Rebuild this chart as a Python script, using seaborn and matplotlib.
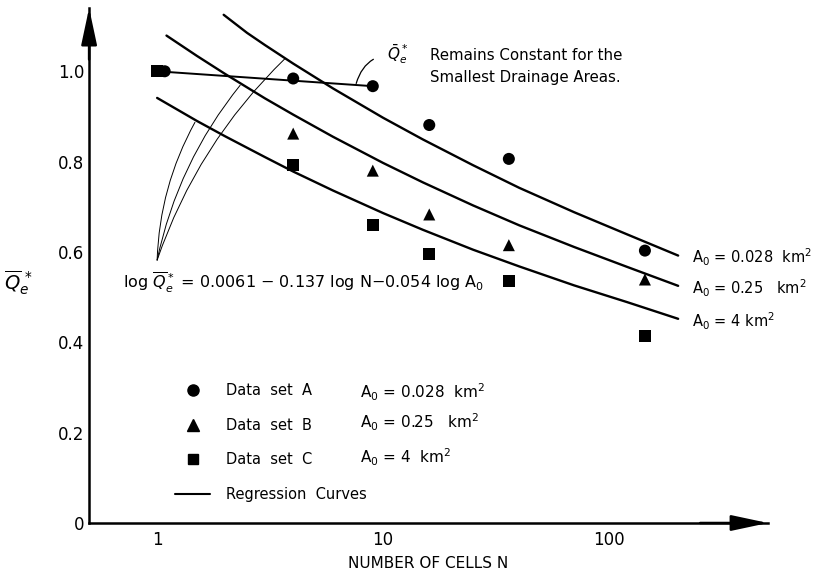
import numpy as np
import pandas as pd
import matplotlib
matplotlib.use("Agg")
import matplotlib.pyplot as plt
import seaborn as sns
from matplotlib.lines import Line2D
from matplotlib.ticker import NullLocator

n_a = [1.08, 4, 9, 16, 36, 144]
q_a = [1.0, 0.984, 0.967, 0.881, 0.806, 0.603]
n_b = [4, 9, 16, 36, 144]
q_b = [0.862, 0.780, 0.683, 0.615, 0.539]
n_c = [1, 4, 9, 16, 36, 144]
q_c = [1.0, 0.792, 0.660, 0.595, 0.535, 0.413]

# regression curves
curve_n_a = [1.97, 2.5, 3, 4, 6, 10, 15, 25, 40, 70, 120, 202]
curve_q_a = [1.125, 1.085, 1.058, 1.017, 0.962, 0.897, 0.849, 0.792, 0.742, 0.688, 0.639, 0.592]
curve_n_b = [1.1, 1.5, 2, 3, 4, 6, 10, 15, 25, 40, 70, 120, 202]
curve_q_b = [1.079, 1.034, 0.994, 0.940, 0.904, 0.855, 0.797, 0.754, 0.703, 0.659, 0.611, 0.567, 0.525]
curve_n_c = [1, 1.5, 2, 3, 4, 6, 10, 15, 25, 40, 70, 120, 202]
curve_q_c = [0.941, 0.890, 0.856, 0.810, 0.778, 0.736, 0.686, 0.649, 0.605, 0.568, 0.526, 0.489, 0.452]
curve_labels = ["A$_0$ = 0.028  km$^2$", "A$_0$ = 0.25   km$^2$", "A$_0$ = 4 km$^2$"]

# "remains constant" segment
const_n = [1, 9]
const_q = [1.0, 0.967]

set_names = ["Data  set  A", "Data  set  B", "Data  set  C"]
set_areas = ["A$_0$ = 0.028  km$^2$", "A$_0$ = 0.25   km$^2$", "A$_0$ = 4  km$^2$"]

x_ticks = [1, 10, 100]
x_tick_labels = ["1", "10", "100"]
y_ticks = [0, 0.2, 0.4, 0.6, 0.8, 1.0]
y_tick_labels = ["0", "0.2", "0.4", "0.6", "0.8", "1.0"]


def main():
    sns.set_theme(style="white")
    plt.rcParams["font.family"] = ["DejaVu Sans"]
    plt.rcParams["mathtext.fontset"] = "dejavusans"
    plt.rcParams["text.color"] = "black"
    plt.rcParams["axes.labelcolor"] = "black"

    fig = plt.figure(figsize=(8.25, 5.77), dpi=100)
    ax = fig.add_axes([0.108, 0.0936, 0.823, 0.8925])

    pts = pd.DataFrame({
        "N": n_a + n_b + n_c,
        "Q": q_a + q_b + q_c,
        "set": ["A"] * len(n_a) + ["B"] * len(n_b) + ["C"] * len(n_c),
    })
    curves = pd.DataFrame({
        "N": curve_n_a + curve_n_b + curve_n_c,
        "Q": curve_q_a + curve_q_b + curve_q_c,
        "A0": ["a"] * len(curve_n_a) + ["b"] * len(curve_n_b) + ["c"] * len(curve_n_c),
    })

    sns.lineplot(data=curves, x="N", y="Q", units="A0", estimator=None, sort=False,
                 color="black", lw=1.7, legend=False, ax=ax)
    sns.lineplot(x=const_n, y=const_q, color="black", lw=1.4, ax=ax)
    sns.scatterplot(data=pts, x="N", y="Q", style="set",
                    markers={"A": "o", "B": "^", "C": "s"},
                    color="black", s=75, linewidth=0, legend=False, ax=ax, zorder=5)

    ax.set_xscale("log")
    ax.set_xlim(0.5, 505)
    ax.set_ylim(0, 1.14)

    # axes styling
    for side in ["top", "right"]:
        ax.spines[side].set_visible(False)
    for side in ["left", "bottom"]:
        ax.spines[side].set_linewidth(1.8)
        ax.spines[side].set_color("black")
    ax.set_xticks(x_ticks)
    ax.set_xticklabels(x_tick_labels)
    ax.xaxis.set_minor_locator(NullLocator())
    ax.set_yticks(y_ticks)
    ax.set_yticklabels(y_tick_labels)
    ax.tick_params(axis="both", direction="in", length=7, width=1.2,
                   labelsize=12, colors="black")
    ax.tick_params(axis="x", pad=6)
    ax.set_xlabel("NUMBER OF CELLS N", fontsize=11, labelpad=5)
    ax.set_ylabel("")
    ax.grid(False)

    # arrow heads on the axes
    head = dict(arrowstyle="-|>,head_length=1.5,head_width=0.32", color="black",
                lw=1.8, mutation_scale=15, shrinkA=0, shrinkB=0)
    ax.annotate("", xy=(1, 0), xytext=(0.9, 0), xycoords="axes fraction",
                arrowprops=head, annotation_clip=False)
    ax.annotate("", xy=(0, 1), xytext=(0, 0.9), xycoords="axes fraction",
                arrowprops=head, annotation_clip=False)

    fig.text(0.022, 0.51, r"$\overline{Q}_{e}^{\,*}$", fontsize=14, ha="center", va="center")

    # curve labels
    for lab, yq in zip(curve_labels, [0.588, 0.519, 0.446]):
        ax.text(233, yq, lab, fontsize=10.5, va="center", ha="left")

    # annotation for constant segment
    ax.annotate(r"$\bar{Q}_e^*$", xy=(7.6, 0.973), xytext=(11.6, 1.037),
                fontsize=11, ha="center", va="center",
                arrowprops=dict(arrowstyle="-", connectionstyle="arc3,rad=0.4",
                                lw=0.9, color="black", shrinkA=8, shrinkB=0))
    ax.text(16.1, 1.035, "Remains Constant for the", fontsize=10.8, va="center")
    ax.text(16.1, 0.987, "Smallest Drainage Areas.", fontsize=10.8, va="center")

    # regression equation with pointer lines
    ax.text(0.707, 0.532,
            r"log $\overline{Q}_e^*$ = 0.0061 $-$ 0.137 log N$-$0.054 log A$_0$",
            fontsize=11.5, va="center", ha="left")
    for xe, ye in [(3.68, 1.028), (2.33, 0.969), (1.47, 0.887)]:
        ax.annotate("", xy=(xe, ye), xytext=(1.0, 0.582),
                    arrowprops=dict(arrowstyle="-", connectionstyle="arc3,rad=-0.12",
                                    lw=0.7, color="black", shrinkA=0, shrinkB=0))

    # legend
    handles = [
        Line2D([], [], marker="o", ls="none", color="black", markersize=8),
        Line2D([], [], marker="^", ls="none", color="black", markersize=8),
        Line2D([], [], marker="s", ls="none", color="black", markersize=7.5),
        Line2D([], [], color="black", lw=1.5),
    ]
    leg = ax.legend(handles, set_names + ["Regression  Curves"], loc="upper left",
                    bbox_to_anchor=(0.127, 0.272), frameon=False, fontsize=10.5,
                    handlelength=2.4, handletextpad=1.05, labelspacing=1.35,
                    borderpad=0, borderaxespad=0)
    for t in leg.get_texts():
        t.set_color("black")
    for lab, yq in zip(set_areas, [0.290, 0.222, 0.146]):
        ax.text(7.9, yq, lab, fontsize=11, va="center", ha="left")

    fig.savefig("out.png", dpi=100)
    plt.close(fig)


if __name__ == "__main__":
    main()
